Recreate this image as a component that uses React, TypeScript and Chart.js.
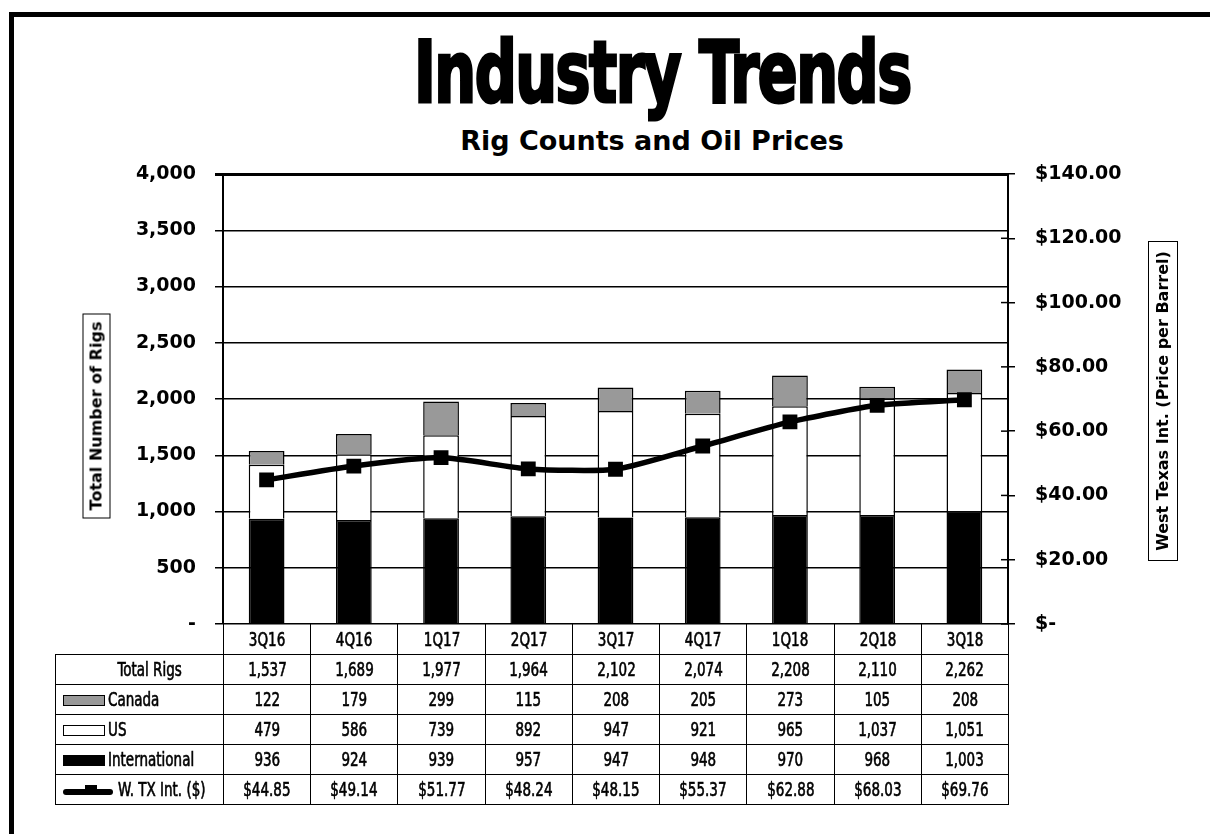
import React, { useEffect, useRef } from "react";
import { Chart, registerables } from "chart.js";

Chart.register(...registerables);

const categories = ["3Q16", "4Q16", "1Q17", "2Q17", "3Q17", "4Q17", "1Q18", "2Q18", "3Q18"];
const totalRigs = [1537, 1689, 1977, 1964, 2102, 2074, 2208, 2110, 2262];
const canada = [122, 179, 299, 115, 208, 205, 273, 105, 208];
const us = [479, 586, 739, 892, 947, 921, 965, 1037, 1051];
const international = [936, 924, 939, 957, 947, 948, 970, 968, 1003];
const wti = [44.85, 49.14, 51.77, 48.24, 48.15, 55.37, 62.88, 68.03, 69.76];

const leftTickStep = 500;
const rightTickStep = 20;

const fmtInt = (v: number) => v.toLocaleString("en-US");
const fmtMoney = (v: number) => "$" + v.toFixed(2);

const TABLE_FONT = "'DejaVu Sans Condensed', 'DejaVu Sans', sans-serif";

const innerTicks = {
  id: "innerTicks",
  afterDraw(chart: any) {
    const s = chart.scales.y1;
    const ctx = chart.ctx;
    ctx.save();
    ctx.strokeStyle = "#000";
    ctx.lineWidth = 1.5;
    s.ticks.forEach((_t: any, i: number) => {
      const y = s.getPixelForTick(i);
      ctx.beginPath();
      ctx.moveTo(s.left - 7, y);
      ctx.lineTo(s.left, y);
      ctx.stroke();
    });
    ctx.restore();
  },
};

function Narrow({ children, origin = "center" }: { children: React.ReactNode; origin?: string }) {
  return (
    <span style={{ display: "inline-block", transform: "scaleX(0.79)", transformOrigin: origin + " center" }}>
      {children}
    </span>
  );
}

function LegendIcon({ kind }: { kind: string }) {
  if (kind === "line") {
    return (
      <span style={{ position: "relative", display: "inline-block", width: 50, height: 14, marginRight: 5, verticalAlign: "middle" }}>
        <span style={{ position: "absolute", left: 0, top: 5, width: 50, height: 6, background: "#000", borderRadius: 3 }} />
        <span style={{ position: "absolute", left: 22, top: 1, width: 12, height: 8, background: "#000" }} />
      </span>
    );
  }
  const bg = kind === "canada" ? "#999" : kind === "us" ? "#fff" : "#000";
  return (
    <span
      style={{
        display: "inline-block",
        width: 40,
        height: 9,
        background: bg,
        border: "1.5px solid #000",
        marginRight: 3,
        verticalAlign: "middle",
      }}
    />
  );
}

export default function App() {
  const canvasRef = useRef<HTMLCanvasElement | null>(null);

  useEffect(() => {
    if (!canvasRef.current) return;
    const chart = new Chart(canvasRef.current, {
      type: "bar",
      data: {
        labels: categories,
        datasets: [
          {
            type: "line" as any,
            label: "W. TX Int. ($)",
            data: wti,
            yAxisID: "y1",
            borderColor: "#000",
            backgroundColor: "#000",
            borderWidth: 5.5,
            pointStyle: "rect",
            pointRadius: 10.5,
            pointBorderWidth: 0,
            tension: 0.2,
            order: 0,
          } as any,
          {
            label: "International",
            data: international,
            backgroundColor: "#000",
            borderColor: "#000",
            borderWidth: 1.5,
            yAxisID: "y",
            order: 1,
          },
          {
            label: "US",
            data: us,
            backgroundColor: "#fff",
            borderColor: "#000",
            borderWidth: 1.5,
            yAxisID: "y",
            order: 1,
          },
          {
            label: "Canada",
            data: canada,
            backgroundColor: "#999",
            borderColor: "#000",
            borderWidth: 1.5,
            yAxisID: "y",
            order: 1,
          },
        ],
      },
      options: {
        responsive: false,
        animation: false,
        layout: { padding: { top: 174, bottom: 36, left: 0, right: 0 } },
        datasets: { bar: { barPercentage: 0.41, categoryPercentage: 1 } },
        plugins: { legend: { display: false }, tooltip: { enabled: false }, title: { display: false } },
        scales: {
          x: { stacked: true, display: false },
          y: {
            stacked: true,
            position: "left",
            min: 0,
            max: 4000,
            ticks: {
              stepSize: leftTickStep,
              color: "#000",
              padding: 19,
              font: { family: "'DejaVu Sans', sans-serif", weight: "bold", size: 19 },
              callback: (v: any) => (Number(v) === 0 ? "-" : fmtInt(Number(v))),
            },
            grid: {
              color: "#000",
              lineWidth: (c: any) => (c.tick && c.tick.value === 4000 ? 3 : 1.5),
              tickLength: 8,
            },
            border: { display: true, color: "#000", width: 2 },
            afterFit: (s: any) => {
              s.width = 223;
            },
          },
          y1: {
            position: "right",
            min: 0,
            max: 140,
            ticks: {
              stepSize: rightTickStep,
              color: "#000",
              padding: 20,
              font: { family: "'DejaVu Sans', sans-serif", weight: "bold", size: 19 },
              callback: (v: any) => (Number(v) === 0 ? "$-" : fmtMoney(Number(v))),
            },
            grid: { drawOnChartArea: false, color: "#000", lineWidth: 1.5, tickLength: 7 },
            border: { display: true, color: "#000", width: 2 },
            afterFit: (s: any) => {
              s.width = 202;
            },
          },
        },
      } as any,
      plugins: [innerTicks],
    });
    return () => chart.destroy();
  }, []);

  const cell: React.CSSProperties = {
    border: "1.5px solid #000",
    textAlign: "center",
    padding: 0,
    fontFamily: TABLE_FONT,
    fontSize: 19,
    color: "#000",
    WebkitTextStroke: "0.6px #000",
    whiteSpace: "nowrap",
    overflow: "visible",
  };
  const labelCell: React.CSSProperties = { ...cell, textAlign: "left", paddingLeft: 7 };

  const rows: { label: string; icon?: string; values: string[] }[] = [
    { label: "Total Rigs", values: totalRigs.map(fmtInt) },
    { label: "Canada", icon: "canada", values: canada.map(fmtInt) },
    { label: "US", icon: "us", values: us.map(fmtInt) },
    { label: "International", icon: "intl", values: international.map(fmtInt) },
    { label: "W. TX Int. ($)", icon: "line", values: wti.map(fmtMoney) },
  ];

  const colW = (1008 - 223) / categories.length;

  return (
    <div style={{ position: "absolute", left: 0, top: 0, width: 1210, height: 834, overflow: "hidden", background: "#fff" }}>
      <div
        style={{
          position: "absolute",
          left: 9,
          top: 12,
          width: 1400,
          height: 1000,
          borderLeft: "5px solid #000",
          borderTop: "5px solid #000",
        }}
      />
      <div
        style={{
          position: "absolute",
          left: 342,
          top: 29,
          width: 600,
          textAlign: "center",
          fontFamily: "'DejaVu Sans Condensed', 'DejaVu Sans', sans-serif",
          fontWeight: "bold",
          fontSize: 86,
          lineHeight: 1,
          letterSpacing: -2,
          WebkitTextStroke: "3px #000",
          transform: "scaleX(0.76)",
          whiteSpace: "nowrap",
          color: "#000",
        }}
      >
        Industry Trends
      </div>
      <div
        style={{
          position: "absolute",
          left: 352,
          top: 127,
          width: 600,
          textAlign: "center",
          fontFamily: "'DejaVu Sans', sans-serif",
          fontWeight: "bold",
          fontSize: 27,
          lineHeight: 1,
          whiteSpace: "nowrap",
          color: "#000",
        }}
      >
        Rig Counts and Oil Prices
      </div>
      <canvas ref={canvasRef} width={1210} height={660} style={{ position: "absolute", left: 0, top: 0, width: 1210, height: 660 }} />
      <div
        style={{
          position: "absolute",
          left: 96,
          top: 416,
          width: 205,
          height: 28,
          marginLeft: -102.5,
          marginTop: -14,
          transform: "rotate(-90deg)",
          border: "1.5px solid #000",
          boxSizing: "border-box",
          background: "#fff",
          fontFamily: "'DejaVu Sans', sans-serif",
          fontWeight: "bold",
          fontSize: 16,
          lineHeight: "25px",
          textAlign: "center",
          whiteSpace: "nowrap",
          color: "#000",
        }}
      >
        Total Number of Rigs
      </div>
      <div
        style={{
          position: "absolute",
          left: 1163,
          top: 401,
          width: 320,
          height: 30,
          marginLeft: -160,
          marginTop: -15,
          transform: "rotate(-90deg)",
          border: "1.5px solid #000",
          boxSizing: "border-box",
          background: "#fff",
          fontFamily: "'DejaVu Sans', sans-serif",
          fontWeight: "bold",
          fontSize: 16,
          lineHeight: "27px",
          textAlign: "center",
          whiteSpace: "nowrap",
          color: "#000",
        }}
      >
        West Texas Int. (Price per Barrel)
      </div>
      <table
        style={{
          position: "absolute",
          left: 55,
          top: 624,
          width: 1008 - 55,
          borderCollapse: "collapse",
          tableLayout: "fixed",
        }}
      >
        <colgroup>
          <col style={{ width: 223 - 55 }} />
          {categories.map((c) => (
            <col key={c} style={{ width: colW }} />
          ))}
        </colgroup>
        <tbody>
          <tr style={{ height: 30 }}>
            <td style={{ ...cell, border: "none" }} />
            {categories.map((c) => (
              <td key={c} style={{ ...cell, borderTop: "none" }}>
                <Narrow>{c}</Narrow>
              </td>
            ))}
          </tr>
          {rows.map((r) => (
            <tr key={r.label} style={{ height: 30 }}>
              {r.icon ? (
                <td style={labelCell}>
                  <LegendIcon kind={r.icon} />
                  <Narrow origin="left">{r.label}</Narrow>
                </td>
              ) : (
                <td style={{ ...cell, paddingLeft: 20 }}>
                  <Narrow>{r.label}</Narrow>
                </td>
              )}
              {r.values.map((v, i) => (
                <td key={i} style={cell}>
                  <Narrow>{v}</Narrow>
                </td>
              ))}
            </tr>
          ))}
        </tbody>
      </table>
    </div>
  );
}
